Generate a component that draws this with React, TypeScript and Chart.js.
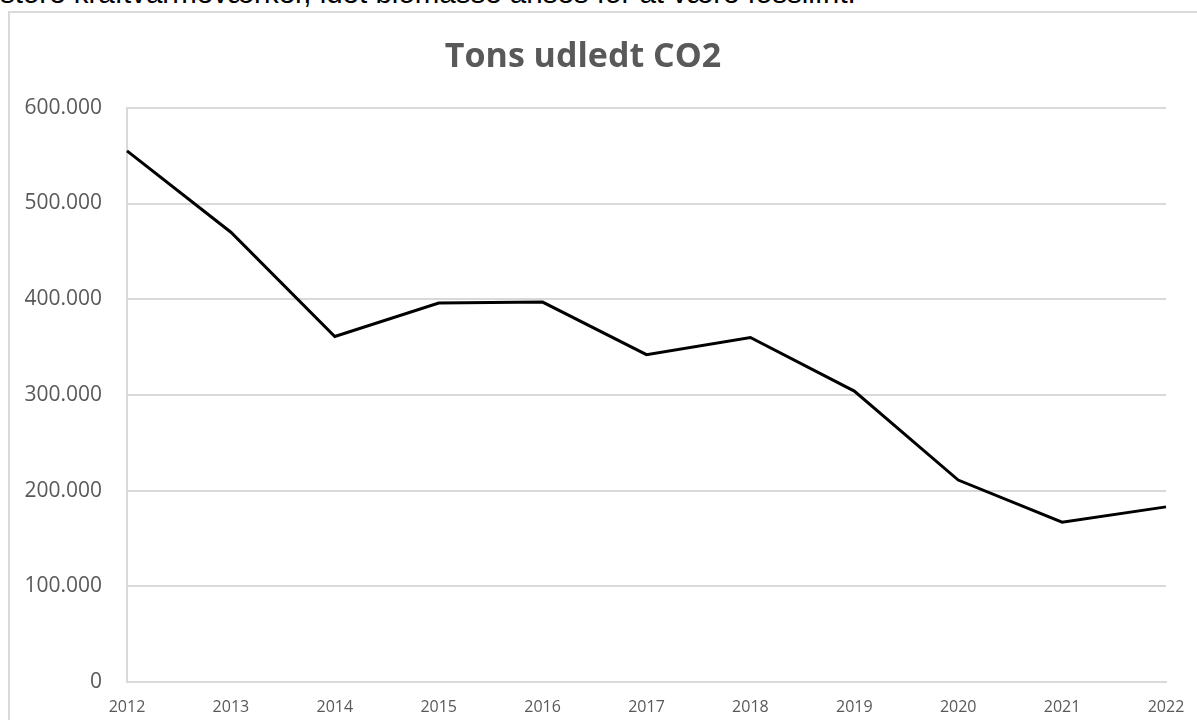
import React, { useEffect, useRef } from "react";
import { Chart, registerables } from "chart.js";

Chart.register(...registerables);

const years: string[] = ["2012", "2013", "2014", "2015", "2016", "2017", "2018", "2019", "2020", "2021", "2022"];
const tonsCO2: number[] = [555000, 470000, 361000, 396000, 397000, 342000, 360000, 304000, 211000, 167000, 183000];
const yTicks: number[] = [0, 100000, 200000, 300000, 400000, 500000, 600000];
const chartTitle = "Tons udledt CO2";
const topText = "store kraftvarmeværker, idet biomasse anses for at være fossilfrit.";

const fmt = (v: number) => v === 0 ? "0" : v.toLocaleString("da-DK").replace(/,/g, ".");

export default function App() {
  const ref = useRef<HTMLCanvasElement | null>(null);

  useEffect(() => {
    if (!ref.current) return;
    const chart = new Chart(ref.current, {
      type: "line",
      data: {
        labels: years,
        datasets: [
          {
            label: chartTitle,
            data: tonsCO2,
            borderColor: "#000000",
            borderWidth: 3,
            pointRadius: 0,
            tension: 0,
            fill: false,
          },
        ],
      },
      options: {
        animation: false,
        responsive: false,
        maintainAspectRatio: false,
        layout: { padding: { left: 0, right: 31, top: 0, bottom: 0 } },
        plugins: {
          legend: { display: false },
          tooltip: { enabled: false },
          title: {
            display: true,
            text: chartTitle,
            color: "#595959",
            font: { family: "'Open Sans', sans-serif", size: 34, weight: "bold", lineHeight: 1.2 },
            padding: { top: 37, bottom: 30 },
          },
        },
        scales: {
          x: {
            offset: false,
            grid: { display: false, drawTicks: false },
            border: { display: true, color: "#d9d9d9", width: 2 },
            ticks: {
              color: "#595959",
              font: { family: "'Open Sans', sans-serif", size: 16 },
              padding: 16,
              maxRotation: 0,
              autoSkip: false,
            },
            afterFit: (s: any) => { s.height = 38; s.paddingLeft = 0; s.paddingRight = 0; },
          },
          y: {
            min: 0,
            max: 600000,
            afterBuildTicks: (s: any) => { s.ticks = yTicks.map((v) => ({ value: v })); },
            grid: { color: "#d9d9d9", lineWidth: 2, drawTicks: false },
            border: { display: true, color: "#d9d9d9", width: 2 },
            ticks: {
              color: "#595959",
              font: { family: "'Open Sans', sans-serif", size: 21 },
              padding: 25,
              callback: (v: any) => fmt(Number(v)),
            },
            afterFit: (s: any) => { s.width = 127; s.paddingTop = 0; s.paddingBottom = 0; },
          },
        },
      },
    });
    return () => chart.destroy();
  }, []);

  return (
    <div style={{ position: "fixed", left: 0, top: 0, width: 1197, height: 720, overflow: "hidden", background: "#ffffff" }}>
      <div
        style={{
          position: "absolute",
          left: 0,
          top: -22,
          whiteSpace: "nowrap",
          fontFamily: "'Liberation Sans', Arial, sans-serif",
          fontSize: 29.5,
          lineHeight: 1,
          color: "#000",
        }}
      >
        {topText}
      </div>
      <div
        style={{
          position: "absolute",
          left: 8,
          top: 11,
          width: 1300,
          height: 800,
          border: "2px solid #d9d9d9",
          boxSizing: "border-box",
        }}
      />
      <canvas ref={ref} width={1197} height={720} style={{ position: "absolute", left: 0, top: 0, width: 1197, height: 720 }} />
    </div>
  );
}
